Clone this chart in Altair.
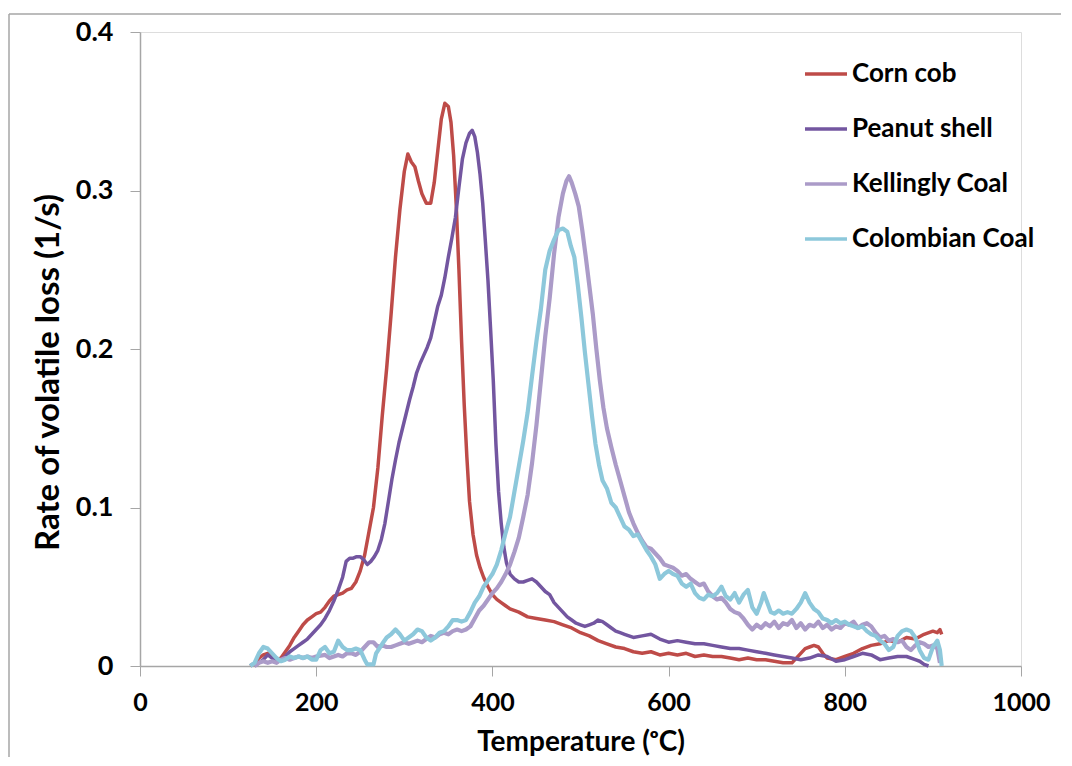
import altair as alt
import pandas as pd

series_names = ["Corn cob", "Peanut shell", "Kellingly Coal", "Colombian Coal"]
series_colors = ["#BE4B48", "#7356A0", "#AB9BC8", "#8DC8DB"]
series_widths = [3.5, 3.5, 4.2, 4.2]

corn_T = [125,130,135,140,145,150,155,160,165,170,175,180,185,190,195,200,205,210,215,220,225,230,235,240,245,250,255,260,265,270,275,280,285,290,295,300,304,308,312,316,320,325,330,334,338,342,346,350,353,356,359,362,365,368,371,374,378,382,386,390,395,400,405,410,415,420,430,440,450,460,470,480,490,500,510,520,530,540,550,560,570,580,590,600,610,620,630,640,650,660,670,680,690,700,710,720,730,740,750,755,760,765,770,775,780,790,800,810,820,830,840,850,860,870,880,890,900,905,908,910]
corn_v = [0.000,0.002,0.005,0.007,0.008,0.006,0.004,0.005,0.009,0.013,0.018,0.022,0.026,0.029,0.031,0.033,0.034,0.037,0.041,0.044,0.045,0.046,0.048,0.049,0.053,0.060,0.070,0.085,0.100,0.125,0.158,0.188,0.222,0.258,0.288,0.312,0.323,0.318,0.315,0.306,0.298,0.292,0.292,0.305,0.325,0.345,0.355,0.353,0.343,0.322,0.290,0.250,0.205,0.165,0.132,0.104,0.083,0.070,0.062,0.056,0.050,0.045,0.042,0.040,0.038,0.036,0.034,0.031,0.030,0.029,0.028,0.026,0.024,0.021,0.019,0.016,0.014,0.012,0.011,0.009,0.008,0.009,0.007,0.008,0.007,0.008,0.006,0.007,0.006,0.006,0.005,0.004,0.005,0.004,0.004,0.003,0.002,0.002,0.008,0.011,0.012,0.013,0.012,0.008,0.005,0.004,0.006,0.008,0.011,0.013,0.014,0.016,0.015,0.018,0.017,0.020,0.022,0.021,0.023,0.020]

peanut_T = [130,140,145,150,155,160,165,170,175,180,185,190,195,200,205,210,215,220,225,230,234,238,242,246,250,254,258,262,266,270,274,278,282,286,290,294,298,302,306,310,314,318,322,326,330,334,338,342,346,350,354,358,362,366,370,374,377,380,383,386,389,392,395,398,401,404,407,410,413,416,420,425,430,435,440,445,450,455,460,465,470,475,480,485,490,495,500,505,510,515,520,525,530,535,540,545,550,560,570,580,590,600,610,620,630,640,650,660,670,680,690,700,710,720,730,740,750,760,770,780,790,800,810,820,830,840,850,860,870,880,885,890,895]
peanut_v = [0.000,0.004,0.007,0.005,0.003,0.004,0.006,0.009,0.011,0.013,0.015,0.017,0.020,0.023,0.026,0.030,0.035,0.041,0.048,0.056,0.066,0.068,0.068,0.069,0.069,0.067,0.064,0.066,0.069,0.073,0.080,0.090,0.104,0.118,0.130,0.141,0.150,0.159,0.168,0.176,0.185,0.191,0.196,0.201,0.207,0.217,0.227,0.234,0.245,0.258,0.270,0.283,0.302,0.320,0.330,0.336,0.338,0.334,0.324,0.310,0.292,0.268,0.243,0.212,0.180,0.140,0.110,0.090,0.075,0.065,0.058,0.055,0.053,0.053,0.054,0.055,0.053,0.050,0.047,0.045,0.040,0.037,0.034,0.031,0.029,0.027,0.026,0.025,0.026,0.027,0.029,0.028,0.026,0.024,0.022,0.021,0.020,0.018,0.019,0.020,0.017,0.015,0.016,0.015,0.014,0.014,0.013,0.012,0.011,0.011,0.010,0.009,0.008,0.007,0.006,0.005,0.004,0.005,0.007,0.006,0.003,0.004,0.006,0.008,0.007,0.004,0.005,0.006,0.006,0.004,0.003,0.001,0.000]

kell_T = [130,135,140,145,150,155,160,165,170,175,180,185,190,195,200,210,215,220,225,230,235,240,245,250,255,260,265,270,275,280,285,290,295,300,305,310,315,320,325,330,335,340,345,350,355,360,365,370,375,380,385,390,395,400,405,410,415,420,425,430,435,440,445,450,455,460,465,470,475,480,484,487,490,494,498,502,506,510,514,518,522,526,530,535,540,545,550,555,560,565,570,575,580,585,590,595,600,605,610,615,620,625,630,635,640,645,650,655,660,665,670,675,680,685,690,695,700,705,710,715,720,725,730,735,740,745,750,755,760,765,770,775,780,785,790,795,800,805,810,815,820,825,830,835,840,845,850,855,860,865,870,875,880,885,890,895,900,905,908]
kell_v = [0.000,0.002,0.003,0.002,0.003,0.002,0.004,0.005,0.004,0.005,0.006,0.005,0.006,0.005,0.006,0.007,0.005,0.006,0.007,0.006,0.008,0.008,0.007,0.009,0.012,0.015,0.015,0.012,0.013,0.012,0.012,0.013,0.014,0.015,0.014,0.015,0.016,0.015,0.017,0.019,0.018,0.020,0.021,0.020,0.022,0.023,0.022,0.023,0.025,0.030,0.035,0.038,0.042,0.046,0.049,0.053,0.058,0.064,0.072,0.081,0.094,0.108,0.128,0.152,0.180,0.208,0.232,0.260,0.283,0.298,0.306,0.309,0.305,0.298,0.290,0.275,0.258,0.240,0.222,0.200,0.180,0.163,0.150,0.138,0.127,0.117,0.107,0.097,0.090,0.084,0.079,0.075,0.074,0.071,0.068,0.064,0.063,0.062,0.060,0.057,0.058,0.055,0.053,0.051,0.052,0.047,0.044,0.042,0.043,0.040,0.036,0.034,0.033,0.030,0.026,0.023,0.026,0.024,0.027,0.025,0.028,0.024,0.027,0.026,0.029,0.024,0.027,0.023,0.026,0.025,0.028,0.024,0.026,0.023,0.025,0.024,0.027,0.026,0.028,0.024,0.026,0.027,0.025,0.021,0.018,0.019,0.016,0.017,0.015,0.016,0.012,0.010,0.013,0.015,0.014,0.012,0.013,0.011,0.002]

col_T = [125,130,135,140,145,150,155,160,165,170,175,180,185,190,195,200,205,210,215,220,225,230,235,240,245,250,255,258,265,268,275,280,285,290,295,300,305,310,315,320,325,330,335,340,345,350,355,360,365,370,375,380,385,390,395,400,405,410,415,420,425,430,435,440,445,450,455,460,465,470,475,480,485,489,493,497,501,505,509,513,517,521,525,530,535,540,545,550,555,560,565,570,575,580,585,590,595,600,605,610,615,620,625,630,635,640,645,650,655,660,665,670,675,680,685,690,695,700,705,708,712,716,720,725,730,735,740,745,750,755,760,765,770,775,780,785,790,795,800,805,810,815,820,825,830,835,840,845,850,855,860,865,870,875,880,885,890,895,900,905,908,910]
col_v = [0.000,0.002,0.008,0.012,0.011,0.008,0.005,0.003,0.004,0.006,0.005,0.006,0.005,0.006,0.004,0.004,0.010,0.012,0.008,0.009,0.016,0.012,0.010,0.010,0.011,0.010,0.004,0.001,0.001,0.008,0.014,0.018,0.020,0.023,0.020,0.016,0.018,0.020,0.023,0.022,0.018,0.016,0.018,0.021,0.022,0.025,0.029,0.029,0.028,0.029,0.034,0.040,0.044,0.050,0.054,0.058,0.064,0.073,0.084,0.094,0.110,0.126,0.142,0.160,0.183,0.205,0.225,0.250,0.262,0.269,0.275,0.276,0.274,0.265,0.258,0.240,0.220,0.198,0.178,0.158,0.140,0.127,0.117,0.112,0.103,0.100,0.094,0.088,0.086,0.082,0.083,0.078,0.073,0.069,0.064,0.055,0.058,0.060,0.058,0.057,0.052,0.050,0.052,0.046,0.043,0.042,0.045,0.044,0.046,0.050,0.044,0.042,0.046,0.040,0.045,0.048,0.037,0.033,0.040,0.046,0.040,0.034,0.033,0.035,0.033,0.034,0.033,0.036,0.040,0.046,0.040,0.036,0.034,0.030,0.029,0.027,0.029,0.027,0.028,0.026,0.025,0.024,0.025,0.022,0.020,0.019,0.016,0.014,0.010,0.012,0.019,0.022,0.023,0.022,0.018,0.010,0.005,0.004,0.012,0.016,0.010,0.000]

rows = []
for name, w, T, V in zip(series_names, series_widths, [corn_T, peanut_T, kell_T, col_T], [corn_v, peanut_v, kell_v, col_v]):
    for i, (t, v) in enumerate(zip(T, V)):
        rows.append({"Series": name, "T": t, "v": v, "order": i, "w": w})
df = pd.DataFrame(rows)

FONT = "Lato"
GRAY = "#A6A6A6"

lines = alt.Chart(df).mark_line(strokeJoin="round").encode(
    x=alt.X("T:Q", scale=alt.Scale(domain=[0, 1000], nice=False),
            axis=alt.Axis(values=[0, 200, 400, 600, 800, 1000], title="Temperature (ᵒC)",
                          format="d", grid=False, labelFontSize=25, titleFontSize=28,
                          labelFont=FONT, titleFont=FONT, labelFontWeight="bold",
                          titleFontWeight="bold", labelColor="#000", titleColor="#000",
                          domainColor=GRAY, tickColor=GRAY, tickSize=10, domainWidth=1.5,
                          labelFlush=False, labelOverlap=False,
                          labelPadding=14, titlePadding=13)),
    y=alt.Y("v:Q", scale=alt.Scale(domain=[0, 0.4], nice=False),
            axis=alt.Axis(values=[0, 0.1, 0.2, 0.3, 0.4], title="Rate of volatile loss (1/s)",
                          format="~g", grid=False, labelFontSize=27, titleFontSize=33,
                          labelFont=FONT, titleFont=FONT, labelFontWeight="bold",
                          titleFontWeight="bold", labelColor="#000", titleColor="#000",
                          domainColor=GRAY, tickColor=GRAY, tickSize=10, domainWidth=1.5,
                          labelFlush=False, labelOverlap=False,
                          labelPadding=17, titlePadding=10, titleY=340)),
    color=alt.Color("Series:N", scale=alt.Scale(domain=series_names, range=series_colors),
                    sort=series_names,
                    legend=alt.Legend(title=None, orient="none", legendX=663, legendY=19,
                                      symbolType="stroke", symbolSize=1764, symbolStrokeWidth=3.5,
                                      labelFont=FONT, labelFontSize=26, labelFontWeight="bold",
                                      labelColor="#000", rowPadding=19, labelOffset=3,
                                      labelLimit=0)),
    strokeWidth=alt.StrokeWidth("w:Q", scale=None, legend=None),
    order="order:Q",
    detail="Series:N",
)

frame_top = alt.Chart(pd.DataFrame({"k": [0]})).mark_rule(color=GRAY, strokeWidth=1.5).encode(
    x=alt.value(-131), x2=alt.value(940), y=alt.value(-18))
frame_left = alt.Chart(pd.DataFrame({"k": [0]})).mark_rule(color=GRAY, strokeWidth=1.5).encode(
    x=alt.value(-131), y=alt.value(-18), y2=alt.value(740))

chart = alt.layer(frame_top, frame_left, lines).properties(
    width=881, height=634,
    autosize=alt.AutoSizeParams(type="none"),
    padding={"left": 132, "top": 24, "right": 40, "bottom": 91},
).configure_view(stroke=None).configure(background="white")

chart.save("out.html", embed_options={"renderer": "svg", "actions": False})
